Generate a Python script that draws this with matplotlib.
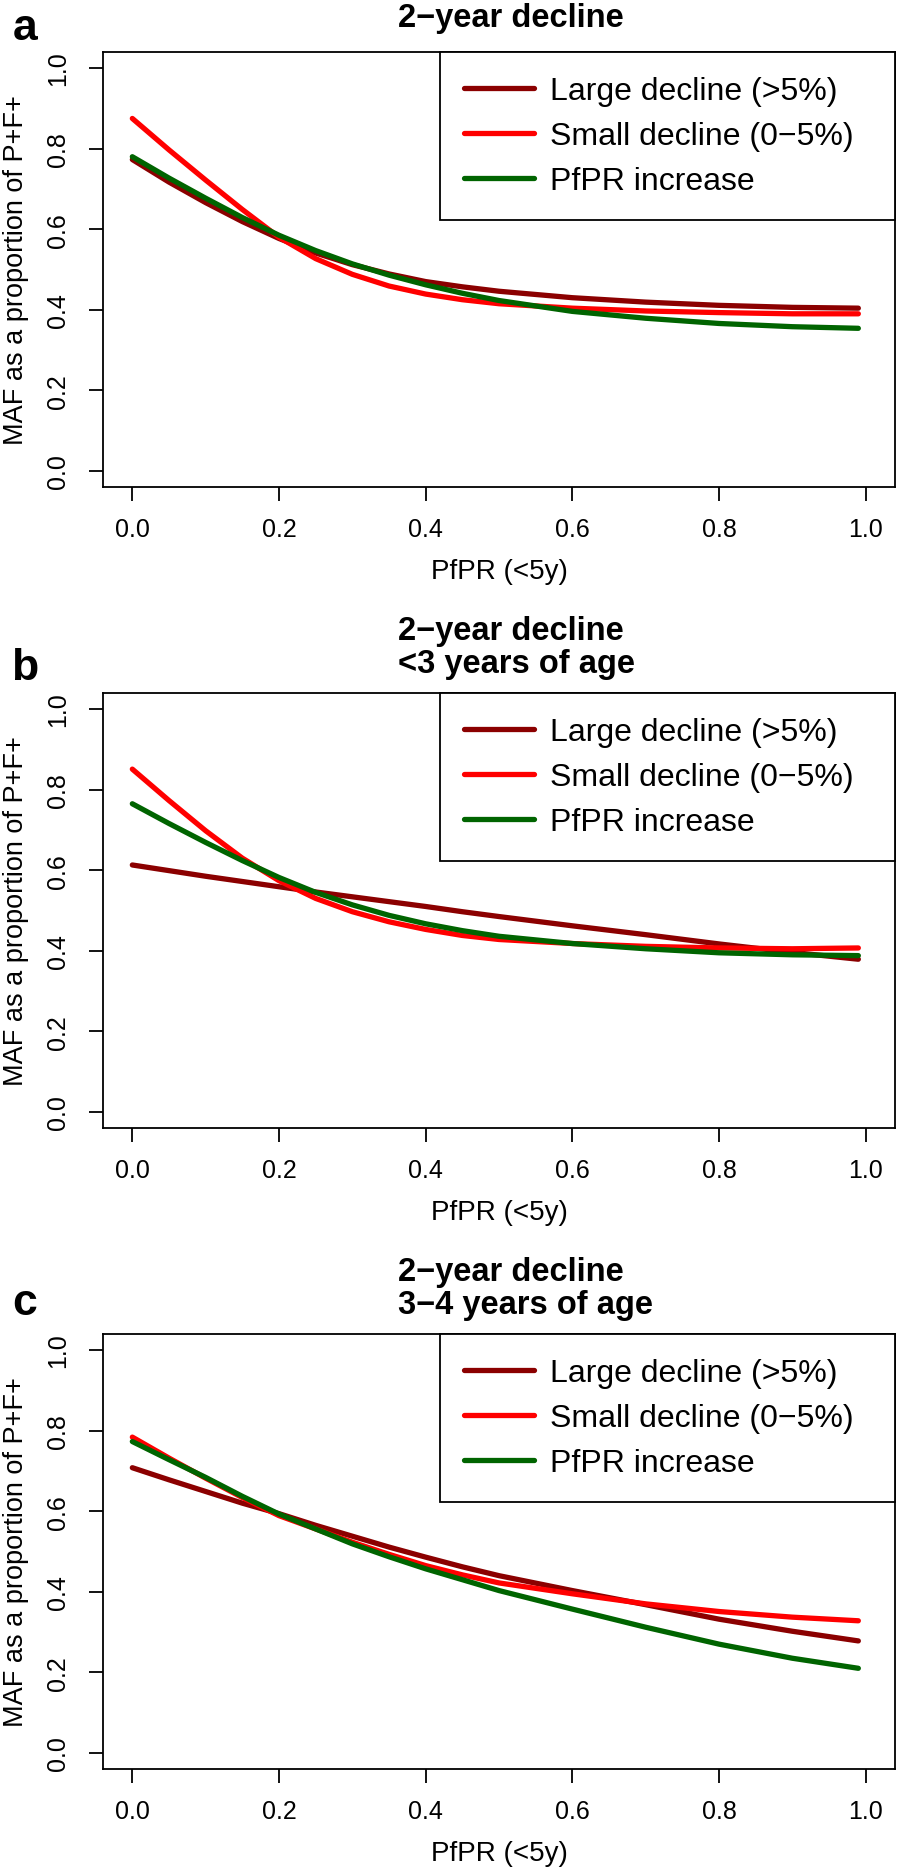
import matplotlib
matplotlib.use('Agg')
import matplotlib.pyplot as plt

plt.rcParams['font.family'] = ['Liberation Sans', 'DejaVu Sans']

# PfPR (<5y) values where the curves were read
pfpr = [0.0, 0.05, 0.1, 0.15, 0.2, 0.25, 0.3, 0.35, 0.4, 0.45, 0.5, 0.6, 0.7, 0.8, 0.9, 0.99]

# panel a: 2-year decline
large_a = [0.773, 0.717, 0.666, 0.619, 0.577, 0.541, 0.512, 0.489, 0.470, 0.457, 0.446, 0.430, 0.419, 0.411, 0.406, 0.404]
small_a = [0.875, 0.797, 0.722, 0.649, 0.580, 0.527, 0.488, 0.459, 0.439, 0.425, 0.415, 0.404, 0.397, 0.393, 0.390, 0.390]
incr_a = [0.780, 0.727, 0.677, 0.629, 0.585, 0.547, 0.514, 0.486, 0.462, 0.441, 0.423, 0.396, 0.379, 0.366, 0.358, 0.354]

# panel b: <3 years of age
large_b = [0.613, 0.599, 0.585, 0.572, 0.559, 0.546, 0.534, 0.522, 0.510, 0.497, 0.485, 0.462, 0.440, 0.417, 0.396, 0.379]
small_b = [0.851, 0.773, 0.698, 0.630, 0.574, 0.530, 0.497, 0.472, 0.453, 0.438, 0.428, 0.418, 0.411, 0.407, 0.405, 0.407]
incr_b = [0.765, 0.716, 0.669, 0.624, 0.582, 0.545, 0.514, 0.488, 0.467, 0.450, 0.436, 0.418, 0.405, 0.395, 0.390, 0.388]

# panel c: 3-4 years of age
large_c = [0.708, 0.678, 0.649, 0.620, 0.594, 0.565, 0.538, 0.511, 0.486, 0.462, 0.440, 0.403, 0.368, 0.332, 0.302, 0.278]
small_c = [0.784, 0.732, 0.682, 0.634, 0.589, 0.556, 0.523, 0.493, 0.465, 0.442, 0.422, 0.395, 0.370, 0.351, 0.337, 0.328]
incr_c = [0.773, 0.728, 0.684, 0.637, 0.593, 0.556, 0.519, 0.487, 0.457, 0.430, 0.403, 0.357, 0.312, 0.270, 0.235, 0.210]

series_names = ['Large decline (>5%)', 'Small decline (0\u22125%)', 'PfPR increase']
series_colors = ['#8B0000', '#FF0000', '#006400']
panel_letters = ['a', 'b', 'c']
panel_titles = [['2\u2212year decline'],
                ['2\u2212year decline', '<3 years of age'],
                ['2\u2212year decline', '3\u22124 years of age']]
ticks = [0.0, 0.2, 0.4, 0.6, 0.8, 1.0]
tick_labels = ['0.0', '0.2', '0.4', '0.6', '0.8', '1.0']

panels = [(large_a, small_a, incr_a), (large_b, small_b, incr_b), (large_c, small_c, incr_c)]

W, H = 898, 1874
fig = plt.figure(figsize=(W / 100, H / 100), dpi=100)

# layout in pixels
ax_left, ax_right, ax_h = 103, 895, 435
ax_tops = [53, 694, 1335]
legend_left = 440
title_baselines = [[27], [640, 673], [1281, 1314]]
letter_baselines = [40, 680, 1315]

for i, curves in enumerate(panels):
    top = ax_tops[i]
    ax = fig.add_axes([ax_left / W, 1 - (top + ax_h) / H, (ax_right - ax_left) / W, ax_h / H])
    for vals, name, col in zip(curves, series_names, series_colors):
        ax.plot(pfpr, vals, color=col, lw=3.8, label=name, solid_capstyle='round')
    ax.set_xlim(-0.04, 1.04)
    ax.set_ylim(-0.04, 1.04)
    ax.set_xticks(ticks)
    ax.set_xticklabels(tick_labels)
    ax.set_yticks(ticks)
    ax.set_yticklabels(tick_labels)
    ax.tick_params(direction='out', length=10, width=1.3, labelsize=18)
    ax.tick_params(axis='x', pad=11.5)
    ax.tick_params(axis='y', labelrotation=90, pad=13.5)
    for lab in ax.get_yticklabels():
        lab.set_va('center')
    for sp in ax.spines.values():
        sp.set_linewidth(1.3)
        sp.set_color('black')

    ax.set_xlabel('PfPR (<5y)', fontsize=20, va='center')
    ax.xaxis.set_label_coords(0.5, -84 / ax_h)
    ax.set_ylabel('MAF as a proportion of P+F+', fontsize=19.5, va='center')
    ax.yaxis.set_label_coords(-(ax_left - 16) / (ax_right - ax_left), 0.5)

    # legend box sits in the top-right corner of the plot
    xl = (legend_left - ax_left) / (ax_right - ax_left)
    leg = ax.legend(loc='upper left', bbox_to_anchor=(xl, 0.5, 1 - xl, 0.5), mode='expand',
                    borderaxespad=0, fontsize=23, handlelength=2.2, handletextpad=0.5,
                    labelspacing=0.47, borderpad=0.75, fancybox=False, framealpha=1,
                    edgecolor='black')
    leg.get_frame().set_linewidth(1.3)
    for ln in leg.get_lines():
        ln.set_linewidth(3.8)

    for line, bl in zip(panel_titles[i], title_baselines[i]):
        fig.text(398 / W, 1 - bl / H, line, fontsize=23.5, fontweight='bold', ha='left', va='baseline')
    fig.text(25 / W, 1 - letter_baselines[i] / H, panel_letters[i], fontsize=32, fontweight='bold',
             ha='center', va='baseline')

fig.savefig('out.png', dpi=100)
